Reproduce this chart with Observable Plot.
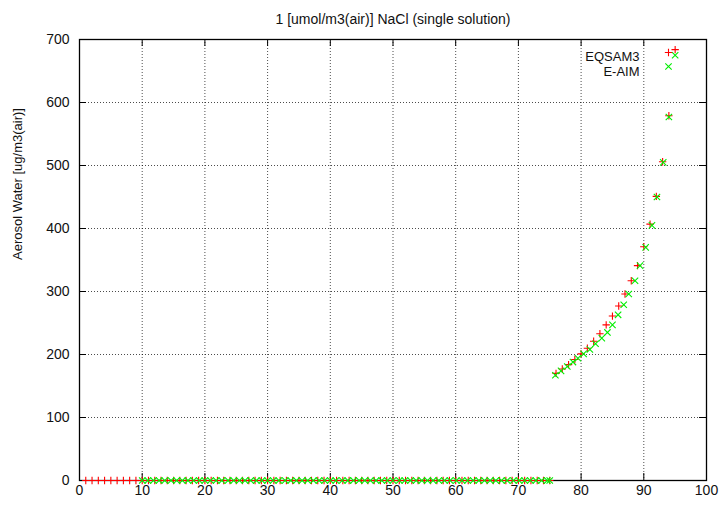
<!DOCTYPE html>
<html><head><meta charset="utf-8">
<script src="https://cdn.jsdelivr.net/npm/d3@7"></script>
<script src="https://cdn.jsdelivr.net/npm/@observablehq/plot@0.6"></script>
<style>body{margin:0;background:#fff;} svg{display:block}</style>
</head><body><div id="chart"></div>
<script>
const titleText = "1 [umol/m3(air)] NaCl (single solution)";
const yLabel = "Aerosol Water [ug/m3(air)]";
const xTicks = [0, 10, 20, 30, 40, 50, 60, 70, 80, 90, 100];
const yTicks = [0, 100, 200, 300, 400, 500, 600, 700];
const seriesNames = ["EQSAM3", "E-AIM"];
const seriesColors = ["#ff0000", "#00ee00"];

// EQSAM3: relative humidity (%) with zero water, then wet branch
const eqsamDryRH = [1,2,3,4,5,6,7,8,9,10,11,12,13,14,15,16,17,18,19,20,21,22,23,24,25,26,27,28,29,30,31,32,33,34,35,36,37,38,39,40,41,42,43,44,45,46,47,48,49,50,51,52,53,54,55,56,57,58,59,60,61,62,63,64,65,66,67,68,69,70,71,72,73,74,75];
const eqsamWetRH = [76,77,78,79,80,81,82,83,84,85,86,87,88,89,90,91,92,93,94,95];
const eqsamWetWater = [170,177,184,192,201,210,221,233,247,261,277,296,317,341,371,407,451,506,579,684];

// E-AIM
const eaimDryRH = [10.0,10.9,11.8,12.7,13.6,14.6,15.5,16.4,17.3,18.2,19.1,20.0,20.9,21.8,22.7,23.7,24.6,25.5,26.4,27.3,28.2,29.1,30.0,30.9,31.8,32.8,33.7,34.6,35.5,36.4,37.3,38.2,39.1,40.0,40.9,41.9,42.8,43.7,44.6,45.5,46.4,47.3,48.2,49.1,50.0,51.0,51.9,52.8,53.7,54.6,55.5,56.4,57.3,58.2,59.1,60.1,61.0,61.9,62.8,63.7,64.6,65.5,66.4,67.3,68.2,69.2,70.1,71.0,71.9,72.8,73.7,74.6,75.0];
const eaimWetRH = [75.9,76.8,77.8,78.7,79.5,80.4,81.4,82.3,83.3,84.2,85.0,85.9,86.8,87.6,88.6,89.4,90.3,91.3,92.1,93.1,94.0,95.0];
const eaimWetWater = [167,174,181,188,194,201,208,217,226,235,247,263,279,296,317,341,370,405,450,505,577,675];

const eqsam = eqsamDryRH.map(rh => ({rh, w: 0}))
  .concat(eqsamWetRH.map((rh, i) => ({rh, w: eqsamWetWater[i]})));
const eaim = eaimDryRH.map(rh => ({rh, w: 0}))
  .concat(eaimWetRH.map((rh, i) => ({rh, w: eaimWetWater[i]})));

const W = 724, H = 511, ML = 79, MR = 18, MT = 39, MB = 31;
const FW = W - ML - MR, FH = H - MT - MB, TL = 7;
const gridStyle = {stroke: "#000", strokeOpacity: 0.7, strokeDasharray: "1,2"};

const chart = Plot.plot({
  width: W, height: H,
  marginLeft: ML, marginRight: MR, marginTop: MT, marginBottom: MB,
  style: {fontFamily: "'Liberation Sans', Arial, Helvetica, sans-serif", fontSize: "14px", color: "#111", background: "#fff"},
  x: {domain: [0, 100]},
  y: {domain: [0, 700]},
  marks: [
    Plot.gridX(xTicks, gridStyle),
    Plot.gridY(yTicks, gridStyle),
    Plot.tickX(xTicks, {x: d => d, insetTop: FH - TL, stroke: "#000"}),
    Plot.tickX(xTicks, {x: d => d, insetBottom: FH - TL, stroke: "#000"}),
    Plot.tickY(yTicks, {y: d => d, insetRight: FW - TL, stroke: "#000"}),
    Plot.tickY(yTicks, {y: d => d, insetLeft: FW - TL, stroke: "#000"}),
    Plot.axisX(xTicks, {tickSize: 0, tickPadding: 5, label: null, fontSize: 14}),
    Plot.axisY(yTicks, {tickSize: 0, tickPadding: 10, label: null, fontSize: 14}),
    Plot.frame({stroke: "#000", strokeWidth: 1.3}),
    Plot.dot(eqsam, {x: "rh", y: "w", symbol: "plus", r: 2.5, stroke: seriesColors[0], strokeWidth: 1.1}),
    Plot.dot(eaim, {x: "rh", y: "w", symbol: "times", r: 3, stroke: seriesColors[1], strokeWidth: 1.1}),
    // legend
    Plot.text([seriesNames[0]], {text: d => d, frameAnchor: "top-right", textAnchor: "end", dx: -67, dy: 12.5, fontSize: 13}),
    Plot.text([seriesNames[1]], {text: d => d, frameAnchor: "top-right", textAnchor: "end", dx: -67, dy: 27.5, fontSize: 13}),
    Plot.dot([seriesNames[0]], {frameAnchor: "top-right", dx: -38, dy: 13, symbol: "plus", r: 2.5, stroke: seriesColors[0], strokeWidth: 1.1}),
    Plot.dot([seriesNames[1]], {frameAnchor: "top-right", dx: -38, dy: 27, symbol: "times", r: 3, stroke: seriesColors[1], strokeWidth: 1.1}),
    // title and y label
    Plot.text([titleText], {text: d => d, frameAnchor: "top", dy: -25, fontSize: 14}),
    Plot.text([yLabel], {text: d => d, frameAnchor: "left", dx: -62, rotate: -90, fontSize: 13})
  ]
});
document.getElementById("chart").appendChild(chart);
</script>
</body></html>
